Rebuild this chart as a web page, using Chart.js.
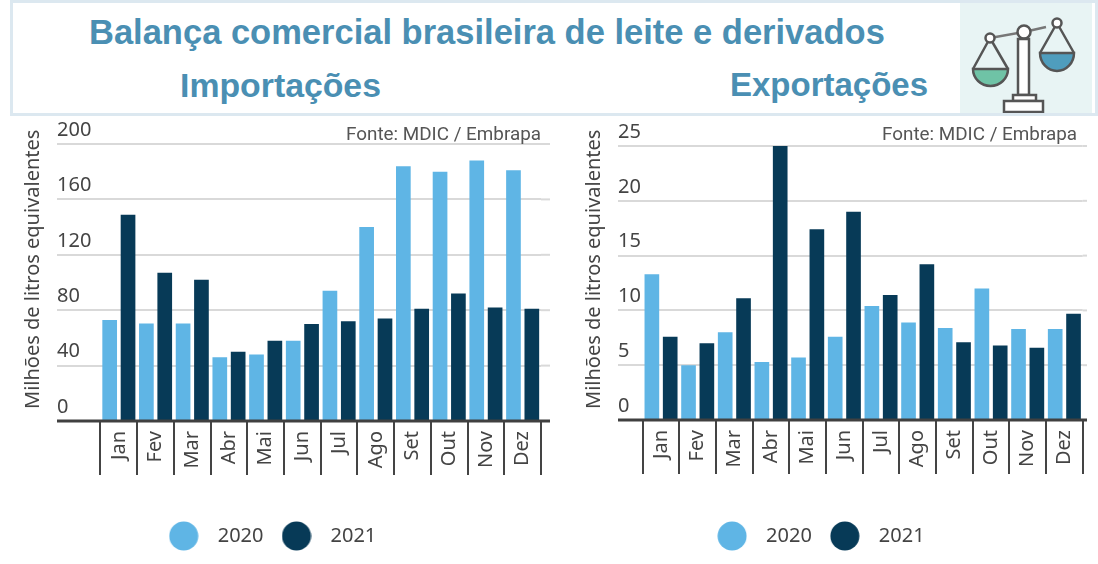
<!DOCTYPE html>
<html lang="pt">
<head>
<meta charset="utf-8">
<title>Balança comercial brasileira de leite e derivados</title>
<script src="https://cdn.jsdelivr.net/npm/chart.js@4/dist/chart.umd.min.js"></script>
<style>
  html, body { margin: 0; padding: 0; background: #fff; overflow: hidden; }
  #page { position: relative; width: 1098px; height: 564px; overflow: hidden; font-family: "Noto Sans", sans-serif; }
  #box { position: absolute; left: 10px; top: 0; width: 1082px; height: 110px; border: 3px solid #dce8f0; }
  #iconPanel { position: absolute; left: 960px; top: 3px; width: 132px; height: 110px; background: #e8f4f4; }
  .head { position: absolute; color: #4a8fb3; font: bold 34.5px "Liberation Sans", sans-serif; white-space: nowrap; line-height: 40px; }
  .fonte { position: absolute; color: #555; font: 18.85px Roboto, sans-serif; white-space: nowrap; line-height: 20px; }
  .ytitle { position: absolute; color: #444; font-size: 20px; line-height: 24px; white-space: nowrap; transform-origin: 0 0; transform: rotate(-90deg); }
  canvas { position: absolute; top: 0; }
</style>
</head>
<body>
<div id="page">
  <div id="box"></div>
  <div id="iconPanel">
    <svg width="132" height="110" viewBox="0 0 132 110" fill="none" stroke="#555" stroke-width="2.5">
      <path d="M13 66 h35 a17.5 17 0 0 1 -35 0 z" fill="#6fc3a6"/>
      <path d="M80 50 h34 a17 18 0 0 1 -34 0 z" fill="#4f9dbd"/>
      <path d="M30 35 L13 66 M30 35 L48 66 M97 20 L80 50 M97 20 L114 50"/>
      <path d="M30 35 L64 29 L86 24" stroke="#777"/>
      <circle cx="30" cy="35" r="4.5" fill="#fff"/>
      <circle cx="97" cy="20" r="4.5" fill="#fff"/>
      <circle cx="64" cy="29" r="6.5" fill="#fff"/>
      <rect x="58" y="36" width="11" height="56" fill="#fff"/>
      <rect x="53" y="92" width="23" height="6" fill="#fff"/>
      <rect x="44" y="98" width="39" height="11" fill="#fff"/>
    </svg>
  </div>
  <div class="head" style="left:89px;top:12px">Balança comercial brasileira de leite e derivados</div>
  <div class="head" style="left:180px;top:65px;font-size:33.8px">Importações</div>
  <div class="head" style="left:730px;top:65px;font-size:33px">Exportações</div>
  <canvas id="chartImp"></canvas>
  <canvas id="chartExp"></canvas>
  <div class="fonte" style="left:346px;top:124px">Fonte: MDIC / Embrapa</div>
  <div class="fonte" style="left:882px;top:124px">Fonte: MDIC / Embrapa</div>
  <div class="ytitle" style="left:20px;top:409px">Milhões de litros equivalentes</div>
  <div class="ytitle" style="left:581px;top:409px">Milhões de litros equivalentes</div>
</div>
<script>
const meses = ['Jan', 'Fev', 'Mar', 'Abr', 'Mai', 'Jun', 'Jul', 'Ago', 'Set', 'Out', 'Nov', 'Dez'];
const anos = ['2020', '2021'];
const imp2020 = [73, 70.4, 70.4, 46, 48, 58, 94, 140, 184, 180, 188, 181];
const imp2021 = [149, 107, 102, 50, 58, 70, 72, 74, 81, 92, 82, 81];
const exp2020 = [13.3, 5, 8, 5.3, 5.7, 7.6, 10.4, 8.9, 8.4, 12, 8.3, 8.3];
const exp2021 = [7.6, 7, 11.1, 25, 17.4, 19, 11.4, 14.2, 7.1, 6.8, 6.6, 9.7];

const COR_2020 = '#5fb5e5';
const COR_2021 = '#073a57';
const COR_TEXTO = '#444';

// bolinha da legenda: canvas centrado numa caixa mais larga, para dar o espaço até o texto
function bolinha(cor) {
    const c = document.createElement('canvas');
    c.width = 30;
    c.height = 30;
    const ctx = c.getContext('2d');
    ctx.fillStyle = cor;
    ctx.beginPath();
    ctx.arc(15, 15, 14.5, 0, Math.PI * 2);
    ctx.fill();
    return c;
}

// as linhas de grade passam da última categoria e a linha de base é mais grossa
const gradeEstendida = {
    id: 'gradeEstendida',
    afterLayout(chart, args, opts) {
        // a legenda não fica centrada no gráfico
        chart.legend.left += opts.legendaDx;
        chart.legend.right += opts.legendaDx;
    },
    afterDatasetsDraw(chart) {
        const { ctx, chartArea, scales } = chart;
        const y = scales.y;
        ctx.save();
        ctx.strokeStyle = '#d9d9d9';
        ctx.lineWidth = 2;
        y.ticks.forEach(t => {
            if (t.value === 0) return;
            const py = y.getPixelForValue(t.value);
            ctx.beginPath();
            ctx.moveTo(chartArea.right, py);
            ctx.lineTo(chart.width, py);
            ctx.stroke();
        });
        ctx.strokeStyle = '#404040';
        ctx.lineWidth = 3;
        const base = y.getPixelForValue(0);
        ctx.beginPath();
        ctx.moveTo(y.left, base);
        ctx.lineTo(chart.width, base);
        ctx.stroke();
        ctx.restore();
    }
};

function criaGrafico(id, cfg) {
    const canvas = document.getElementById(id);
    canvas.width = cfg.width;
    canvas.height = 564;
    canvas.style.left = cfg.left + 'px';
    return new Chart(canvas.getContext('2d'), {
        type: 'bar',
        data: {
            labels: meses,
            datasets: [
                { label: anos[0], data: cfg.s2020, backgroundColor: COR_2020, pointStyle: bolinha(COR_2020) },
                { label: anos[1], data: cfg.s2021, backgroundColor: COR_2021, pointStyle: bolinha(COR_2021) }
            ]
        },
        options: {
            responsive: false,
            animation: false,
            barPercentage: 0.8,
            categoryPercentage: 1,
            layout: { padding: { left: cfg.padLeft, right: cfg.padRight, top: cfg.top, bottom: 8 } },
            plugins: {
                tooltip: { enabled: false },
                gradeEstendida: { legendaDx: cfg.legendaDx },
                legend: {
                    position: 'bottom',
                    onClick: null,
                    labels: {
                        usePointStyle: true,
                        pointStyleWidth: 48,
                        padding: 9,
                        color: COR_TEXTO,
                        font: { family: 'Noto Sans', size: 20 }
                    }
                }
            },
            scales: {
                x: {
                    border: { display: false },
                    grid: { offset: true, drawOnChartArea: false, color: '#444', lineWidth: 2, tickLength: 54, tickColor: '#444' },
                    ticks: {
                        autoSkip: false,
                        minRotation: 90,
                        maxRotation: 90,
                        padding: -44,
                        color: COR_TEXTO,
                        font: { family: 'Noto Sans', size: 20 }
                    },
                    afterFit(scale) { scale.height = cfg.xHeight; }
                },
                y: {
                    min: 0,
                    max: cfg.max,
                    border: { display: false },
                    grid: { color: '#d9d9d9', lineWidth: 2, tickLength: cfg.yWidth, tickColor: '#d9d9d9' },
                    ticks: {
                        stepSize: cfg.step,
                        crossAlign: 'far',
                        align: 'end',
                        labelOffset: -4,
                        padding: 0,
                        color: COR_TEXTO,
                        font: { family: 'Noto Sans', size: 20 }
                    },
                    afterFit(scale) { scale.width = cfg.yWidth; }
                }
            }
        },
        plugins: [gradeEstendida]
    });
}

criaGrafico('chartImp', {
    left: 0, width: 550, padLeft: 57, padRight: 9, top: 144, xHeight: 96, yWidth: 43.5, legendaDx: -31,
    max: 200, step: 40, s2020: imp2020, s2021: imp2021
});
criaGrafico('chartExp', {
    left: 545, width: 542, padLeft: 73, padRight: 4.3, top: 146, xHeight: 97, yWidth: 24.7, legendaDx: -34,
    max: 25, step: 5, s2020: exp2020, s2021: exp2021
});
</script>
</body>
</html>
